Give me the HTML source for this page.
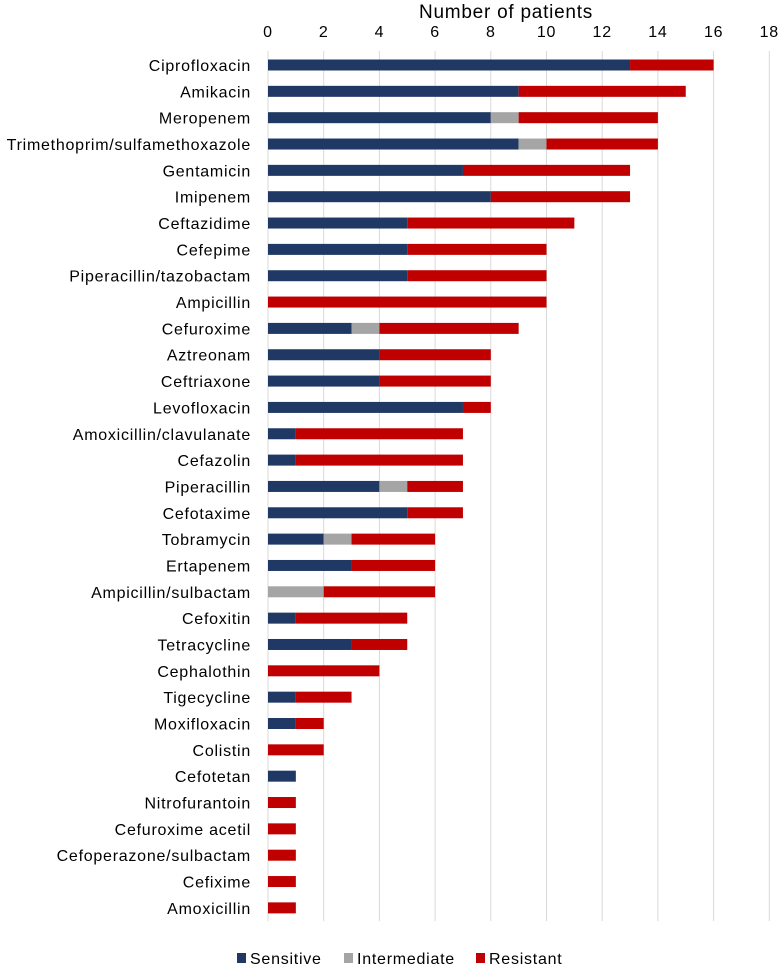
<!DOCTYPE html>
<html><head><meta charset="utf-8"><style>
body{margin:0;background:#fff;font-family:"Liberation Sans",sans-serif;}
svg text{font-family:"Liberation Sans",sans-serif;fill:#000;letter-spacing:0.75px;}
</style></head><body>
<svg id="chart" width="778" height="968" xmlns="http://www.w3.org/2000/svg"></svg>
<script>
const categories=["Ciprofloxacin","Amikacin","Meropenem","Trimethoprim/sulfamethoxazole","Gentamicin","Imipenem","Ceftazidime","Cefepime","Piperacillin/tazobactam","Ampicillin","Cefuroxime","Aztreonam","Ceftriaxone","Levofloxacin","Amoxicillin/clavulanate","Cefazolin","Piperacillin","Cefotaxime","Tobramycin","Ertapenem","Ampicillin/sulbactam","Cefoxitin","Tetracycline","Cephalothin","Tigecycline","Moxifloxacin","Colistin","Cefotetan","Nitrofurantoin","Cefuroxime acetil","Cefoperazone/sulbactam","Cefixime","Amoxicillin"];
const sensitive=[13,9,8,9,7,8,5,5,5,0,3,4,4,7,1,1,4,5,2,3,0,1,3,0,1,1,0,1,0,0,0,0,0];
const intermediate=[0,0,1,1,0,0,0,0,0,0,1,0,0,0,0,0,1,0,1,0,2,0,0,0,0,0,0,0,0,0,0,0,0];
const resistant=[3,6,5,4,6,5,6,5,5,10,5,4,4,1,6,6,2,2,3,3,4,4,2,4,2,1,2,0,1,1,1,1,1];
const ticks=[0,2,4,6,8,10,12,14,16,18];
const NS="http://www.w3.org/2000/svg";
const svg=document.getElementById('chart');
const x0=268,unit=27.85,y0=65,step=26.34,bh=11;
const xs=v=>x0+v*unit, ys=i=>y0+i*step;
function mk(t,a){const e=document.createElementNS(NS,t);for(const k in a)e.setAttribute(k,a[k]);svg.appendChild(e);return e;}
ticks.forEach(t=>{
 const g=mk('line',{x1:xs(t),x2:xs(t),y1:51,y2:921,stroke:'#d9d9d9','stroke-width':1});
 
 
 const l=mk('text',{x:xs(t),y:37,'font-size':16,'text-anchor':'middle'});l.textContent=t;
 
 
});
const title=mk('text',{x:506,y:18,'font-size':19,'text-anchor':'middle'});title.textContent='Number of patients';


const cols=['#1f3864','#a5a5a5','#c00000'];
const names=['sensitive','intermediate','resistant'];
categories.forEach((c,i)=>{
 const cy=ys(i);
 const lab=mk('text',{x:251,y:cy+6,'font-size':16,'text-anchor':'end'});lab.textContent=c;
 
 
 let acc=0;
 [sensitive[i],intermediate[i],resistant[i]].forEach((v,k)=>{
  if(v>0){
   const r=mk('rect',{x:xs(acc),y:cy-bh/2,width:v*unit,height:bh,fill:cols[k]});
   
   
  }
  acc+=v;
 });
});
const leg=[['Sensitive',237],['Intermediate',344],['Resistant',476]];
leg.forEach((l,k)=>{
 const s=mk('rect',{x:l[1],y:953,width:9,height:10,fill:cols[k]});
 
 
 const t=mk('text',{x:l[1]+13,y:964,'font-size':16});t.textContent=l[0];
 
 
});
</script>
</body></html>
